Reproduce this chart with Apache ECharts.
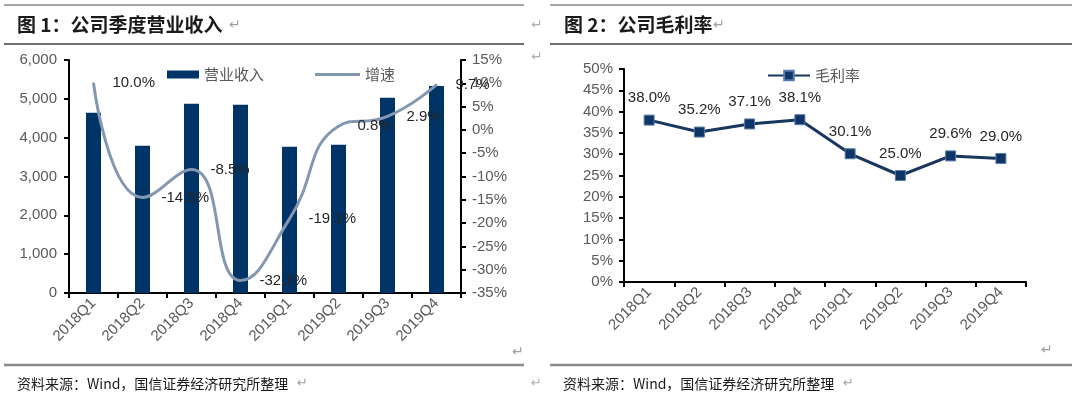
<!DOCTYPE html>
<html>
<head>
<meta charset="utf-8">
<script src="https://cdn.jsdelivr.net/npm/echarts@6/dist/echarts.min.js"></script>
<style>
  html, body { margin: 0; padding: 0; background: #fff; }
  #charts { width: 1080px; height: 398px; }
</style>
</head>
<body>
<div id="charts"></div>
<script>
// 季度
var quarters = ['2018Q1', '2018Q2', '2018Q3', '2018Q4', '2019Q1', '2019Q2', '2019Q3', '2019Q4'];
// 营业收入
var revenue = [4644, 3794, 4876, 4850, 3768, 3820, 5030, 5330];
// 增速 %
var growth = [10.0, -14.5, -8.5, -32.3, -19.1, 0.8, 2.9, 9.7];
// 毛利率 %
var grossMargin = [38.0, 35.2, 37.1, 38.1, 30.1, 25.0, 29.6, 29.0];

var numFont = '"Liberation Sans", "Noto Sans CJK SC", sans-serif';
var cjkFont = '"Noto Sans CJK SC", sans-serif';
var labelGray = '#595959';

function hline(x1, x2, y, color, w) {
  return { type: 'line', shape: { x1: x1, y1: y, x2: x2, y2: y }, style: { stroke: color, lineWidth: w }, silent: true };
}
function txt(x, y, text, size, color, weight, family) {
  return {
    type: 'text', x: x, y: y, silent: true,
    style: { text: text, fontSize: size, fill: color, fontWeight: weight || 'normal', fontFamily: family || cjkFont, verticalAlign: 'middle' }
  };
}

var axisLine = { show: true, lineStyle: { color: '#000', width: 2 } };
var axisTick = { show: true, length: 5, lineStyle: { color: '#000', width: 2 } };

var options = {
  animation: false,
  graphic: [
    // 左图框线
    hline(4, 524, 5, '#a6a6a6', 2),
    hline(4, 524, 44, '#404040', 1.5),
    hline(4, 524, 365, '#8c8c8c', 2.5),
    // 右图框线
    hline(550, 1072, 5, '#a6a6a6', 2),
    hline(550, 1072, 44, '#404040', 1.5),
    hline(550, 1072, 365, '#8c8c8c', 2.5),
    txt(17, 25, '图 1：公司季度营业收入', 19, '#1a1a1a', 'bold'),
    txt(229, 25, '↵', 14, '#a0a0a0', 'normal', '"DejaVu Sans"'),
    txt(564, 25, '图 2：公司毛利率', 19, '#1a1a1a', 'bold'),
    txt(713, 25, '↵', 14, '#a0a0a0', 'normal', '"DejaVu Sans"'),
    txt(531, 25, '↵', 14, '#b0b0b0', 'normal', '"DejaVu Sans"'),
    txt(531, 57, '↵', 14, '#b0b0b0', 'normal', '"DejaVu Sans"'),
    txt(512, 352, '↵', 14, '#a0a0a0', 'normal', '"DejaVu Sans"'),
    txt(1041, 350, '↵', 14, '#a0a0a0', 'normal', '"DejaVu Sans"'),
    txt(17, 384, '资料来源：Wind，国信证券经济研究所整理', 14, '#1a1a1a'),
    txt(297, 384, '↵', 13, '#a0a0a0', 'normal', '"DejaVu Sans"'),
    txt(563, 384, '资料来源：Wind，国信证券经济研究所整理', 14, '#1a1a1a'),
    txt(843, 384, '↵', 13, '#a0a0a0', 'normal', '"DejaVu Sans"'),
    txt(531, 384, '↵', 13, '#b0b0b0', 'normal', '"DejaVu Sans"')
  ],
  legend: [
    {
      data: [{ name: '营业收入', icon: 'rect' }],
      left: 162, top: 62,
      itemWidth: 32, itemHeight: 8,
      textStyle: { color: labelGray, fontSize: 15, fontFamily: cjkFont }
    },
    {
      data: [{ name: '增速', icon: 'rect' }],
      left: 310, top: 62,
      itemWidth: 45, itemHeight: 3,
      textStyle: { color: labelGray, fontSize: 15, fontFamily: cjkFont }
    },
    {
      data: ['毛利率'],
      left: 762, top: 63,
      itemWidth: 42, itemHeight: 12,
      textStyle: { color: labelGray, fontSize: 15, fontFamily: cjkFont }
    }
  ],
  grid: [
    { left: 69, right: 619, top: 60, bottom: 105 },
    { left: 624, right: 54, top: 69, bottom: 116 }
  ],
  xAxis: [
    {
      type: 'category', gridIndex: 0, data: quarters,
      axisLine: axisLine, axisTick: axisTick,
      axisLabel: { rotate: 45, fontSize: 15, color: labelGray, fontFamily: numFont, margin: 8 }
    },
    {
      type: 'category', gridIndex: 1, data: quarters,
      axisLine: axisLine, axisTick: axisTick,
      axisLabel: { rotate: 45, fontSize: 15, color: labelGray, fontFamily: numFont, margin: 8 }
    }
  ],
  yAxis: [
    {
      type: 'value', gridIndex: 0, position: 'left',
      min: 0, max: 6000, interval: 1000,
      axisLine: axisLine, axisTick: axisTick, splitLine: { show: false },
      axisLabel: {
        fontSize: 15, color: labelGray, fontFamily: numFont, margin: 12,
        formatter: function (v) { return v.toLocaleString('en-US'); }
      }
    },
    {
      type: 'value', gridIndex: 0, position: 'right',
      min: -35, max: 15, interval: 5,
      axisLine: axisLine, axisTick: axisTick, splitLine: { show: false },
      axisLabel: { fontSize: 15, color: labelGray, fontFamily: numFont, margin: 11, formatter: '{value}%' }
    },
    {
      type: 'value', gridIndex: 1,
      min: 0, max: 50, interval: 5,
      axisLine: axisLine, axisTick: axisTick, splitLine: { show: false },
      axisLabel: { fontSize: 15, color: labelGray, fontFamily: numFont, margin: 11, formatter: '{value}%' }
    }
  ],
  series: [
    {
      name: '营业收入', type: 'bar',
      xAxisIndex: 0, yAxisIndex: 0,
      barWidth: 15,
      itemStyle: { color: '#003366' },
      data: revenue
    },
    {
      name: '增速', type: 'line',
      xAxisIndex: 0, yAxisIndex: 1,
      smooth: 0.5,
      symbol: 'circle', symbolSize: 2,
      itemStyle: { color: '#8497B0' },
      lineStyle: { color: '#8497B0', width: 3 },
      label: {
        show: true, position: 'right', distance: 18,
        fontSize: 15, color: '#262626', fontFamily: numFont,
        formatter: function (p) { return p.value.toFixed(1) + '%'; }
      },
      data: growth
    },
    {
      name: '毛利率', type: 'line',
      xAxisIndex: 1, yAxisIndex: 2,
      symbol: 'rect', symbolSize: 10,
      itemStyle: { color: '#0E3667', borderColor: '#5A7BAA', borderWidth: 1 },
      lineStyle: { color: '#17375E', width: 3 },
      label: {
        show: true, position: 'top', distance: 9,
        fontSize: 15, color: '#262626', fontFamily: numFont,
        formatter: function (p) { return p.value.toFixed(1) + '%'; }
      },
      data: grossMargin
    }
  ]
};

var chart = echarts.init(document.getElementById('charts'));
chart.setOption(options);
</script>
</body>
</html>
